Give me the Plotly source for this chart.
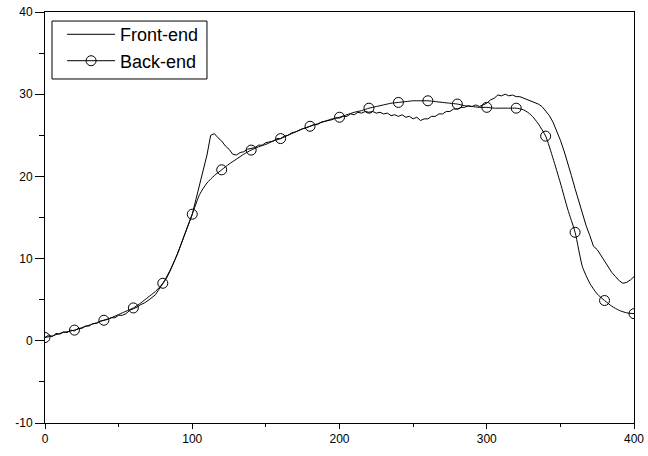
import plotly.graph_objects as go

# Front-end (noisy measured curve), x step 2.5
front_x = [i * 2.5 for i in range(161)]
front_y = [
    0.4, 0.7, 0.5, 0.9, 0.8, 1.1, 1.0, 1.3, 1.2, 1.5,
    1.5, 1.8, 1.8, 2.1, 2.1, 2.4, 2.5, 2.6, 2.8, 2.8,
    3.1, 3.1, 3.3, 3.7, 3.9, 4.1, 4.4, 4.6, 4.9, 5.2,
    5.6, 6.3, 6.9, 7.6, 8.5, 9.5, 10.6, 11.8, 13.0, 14.2,
    15.4, 17.2, 19.0, 20.6, 22.6, 25.0, 25.2, 24.7, 24.3, 23.7,
    23.3, 22.7, 22.6, 22.9, 23.0, 23.3, 23.4, 23.5, 23.8, 23.8,
    24.1, 24.2, 24.3, 24.6, 24.6, 24.9, 25.0, 25.3, 25.4, 25.6,
    25.8, 25.9, 26.1, 26.3, 26.3, 26.6, 26.7, 26.8, 26.9, 27.1,
    27.1, 27.3, 27.3, 27.6, 27.5, 27.8, 27.7, 27.9, 27.8, 27.9,
    27.7, 27.8, 27.6, 27.7, 27.4, 27.5, 27.3, 27.5, 27.2, 27.3,
    27.0, 27.2, 26.8, 27.0, 27.0, 27.3, 27.3, 27.6, 27.6, 27.9,
    27.9, 28.2, 28.2, 28.4, 28.4, 28.6, 28.5, 28.7, 28.5, 28.7,
    28.9, 29.3, 29.5, 29.9, 29.8, 30.0, 29.8, 29.9, 29.7, 29.7,
    29.5, 29.4, 29.2, 29.0, 28.8, 28.5, 28.0, 27.4, 26.6, 25.6,
    24.4, 23.1, 21.7, 20.1, 18.5, 16.9, 15.3, 14.0, 12.8, 11.5,
    11.1, 10.4, 9.6, 8.9, 8.3, 7.8, 7.3, 7.0, 7.1, 7.4,
    7.8,
]

# Back-end (smooth curve), x step 5
back_x = [i * 5 for i in range(81)]
back_y = [
    0.4, 0.6, 0.9, 1.1, 1.3, 1.6, 1.9, 2.2, 2.5, 2.8,
    3.2, 3.6, 4.0, 4.6, 5.3, 6.0, 7.0, 8.6, 10.6, 13.0,
    15.4, 17.8, 19.2, 20.1, 20.8, 21.5, 22.1, 22.7, 23.2, 23.6,
    23.9, 24.3, 24.6, 25.0, 25.4, 25.8, 26.1, 26.4, 26.7, 27.0,
    27.2, 27.5, 27.8, 28.0, 28.3, 28.5, 28.7, 28.9, 29.0, 29.1,
    29.2, 29.2, 29.2, 29.1, 29.0, 28.9, 28.8, 28.6, 28.5, 28.4,
    28.4, 28.3, 28.3, 28.3, 28.3, 28.1, 27.5, 26.4, 24.9, 22.2,
    19.2, 16.0, 13.2, 9.0, 7.0, 5.7, 4.9, 4.2, 3.7, 3.4,
    3.3,
]

# Marker positions for Back-end: every 20 units
marker_x = [x for x in back_x if x % 20 == 0]
marker_y = [y for x, y in zip(back_x, back_y) if x % 20 == 0]

x_ticks = [0, 100, 200, 300, 400]
y_ticks = [-10, 0, 10, 20, 30, 40]
y_ticktext = ["-10", "0", "10", "20", "30", "40"]

fig = go.Figure()
fig.add_trace(go.Scatter(x=front_x, y=front_y, mode="lines", name="Front-end",
                         line=dict(color="black", width=1)))
fig.add_trace(go.Scatter(x=back_x, y=back_y, mode="lines", showlegend=False,
                         line=dict(color="black", width=1, shape="spline", smoothing=0.6)))
fig.add_trace(go.Scatter(x=marker_x, y=marker_y, mode="markers", showlegend=False,
                         marker=dict(symbol="circle-open", size=10, color="black",
                                     line=dict(width=1, color="black"))))
# legend entry for Back-end (line with open circle)
fig.add_trace(go.Scatter(x=[None], y=[None], mode="lines+markers", name="Back-end",
                         line=dict(color="black", width=1),
                         marker=dict(symbol="circle-open", size=10, color="black",
                                     line=dict(width=1, color="black"))))

# legend frame
fig.add_shape(type="rect", xref="paper", yref="paper",
              x0=0.0119, x1=0.275, y0=0.837, y1=0.978,
              line=dict(color="black", width=1), fillcolor="rgba(0,0,0,0)", layer="above")

fig.update_layout(
    width=648, height=456,
    margin=dict(l=45, r=14, t=12, b=33, autoexpand=False),
    paper_bgcolor="white", plot_bgcolor="white",
    font=dict(family="Liberation Sans, Arial, sans-serif", size=12, color="black"),
    showlegend=True,
    legend=dict(x=0.029, y=0.99, xanchor="left", yanchor="top",
                borderwidth=0, bgcolor="rgba(0,0,0,0)",
                font=dict(size=18), itemwidth=48, tracegroupgap=0),
)
fig.update_xaxes(range=[0, 400], tickvals=x_ticks, showgrid=False, zeroline=False,
                 automargin=False,
                 showline=True, linecolor="black", linewidth=1, mirror=True,
                 ticks="outside", ticklen=5, tickcolor="black",
                 minor=dict(dtick=50, ticks="outside", ticklen=3, tickcolor="black", showgrid=False))
fig.update_yaxes(range=[-10, 40], tickvals=y_ticks, ticktext=y_ticktext, showgrid=False,
                 zeroline=False, automargin=False,
                 showline=True, linecolor="black", linewidth=1, mirror=True,
                 ticks="outside", ticklen=9, tickcolor="black",
                 minor=dict(dtick=5, ticks="outside", ticklen=5, tickcolor="black", showgrid=False))

fig.write_html("out.html")
